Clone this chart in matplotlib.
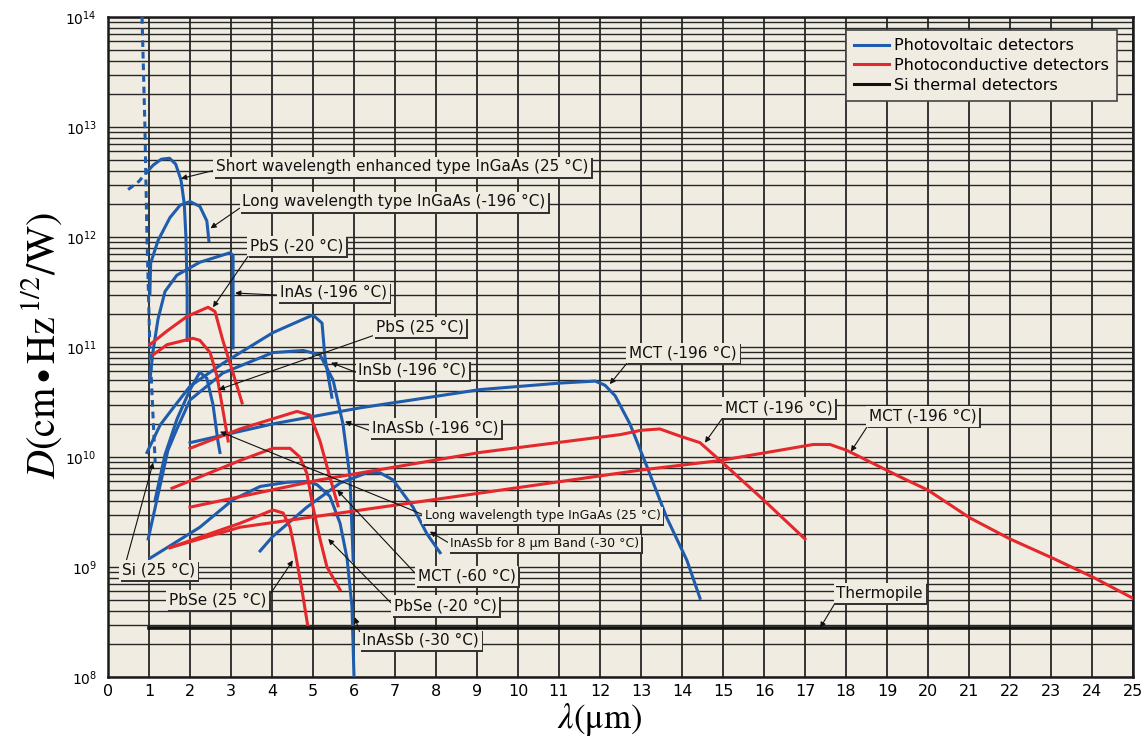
#detectivity of infrared detectors versus wavelength
import numpy as np
import matplotlib.pyplot as plt
import matplotlib.patheffects as pe
from matplotlib.lines import Line2D
from matplotlib.ticker import LogLocator

plt.rcParams['mathtext.fontset'] = 'stix'

bg = '#f0ece1'
blue = '#1f5cab'
red = '#e4282c'

#photovoltaic detectors (blue), wavelength in um, D in cm Hz^1/2 / W
si_lam = [0.83, 0.90, 0.95, 1.02, 1.15]
si_d = [1e14, 1e13, 1e12, 1e11, 8.9e9]

ingaas_sw_dash_lam = [0.49, 0.75, 0.95]
ingaas_sw_dash_d = [2.7e12, 3.2e12, 3.9e12]
ingaas_sw_lam = [0.95, 1.1, 1.3, 1.5, 1.65, 1.78, 1.86, 1.9, 1.93, 1.93]
ingaas_sw_d = [3.9e12, 4.5e12, 5.1e12, 5.2e12, 4.6e12, 3.3e12, 2.0e12, 1.0e12, 3.2e11, 1.15e11]

ingaas_lw_lam = [1.02, 1.04, 1.22, 1.51, 1.76, 2.0, 2.24, 2.41, 2.46]
ingaas_lw_d = [3.0e11, 5.8e11, 9.3e11, 1.5e12, 1.95e12, 2.1e12, 1.9e12, 1.4e12, 9.3e11]

inas_lam = [1.02, 1.10, 1.22, 1.39, 1.68, 2.24, 2.98, 3.05, 3.05]
inas_d = [5.0e10, 9.3e10, 1.8e11, 3.2e11, 4.5e11, 5.9e11, 7.2e11, 6.8e11, 9.8e10]

insb_lam = [0.95, 1.27, 1.59, 2.0, 2.8, 4.02, 4.85, 5.0, 5.22, 5.29, 5.46]
insb_d = [1.1e10, 1.95e10, 2.8e10, 4.4e10, 7.1e10, 1.35e11, 1.85e11, 1.95e11, 1.65e11, 8.1e10, 3.5e10]

inassb196_lam = [0.98, 1.46, 1.68, 2.0, 2.8, 4.02, 4.76, 5.17, 5.49, 5.73, 5.90, 5.98]
inassb196_d = [1.8e9, 1.15e10, 1.8e10, 3.3e10, 5.8e10, 8.9e10, 9.3e10, 8.5e10, 5.0e10, 2.0e10, 6.6e9, 1.15e9]

ingaas_lw25_lam = [1.15, 1.39, 1.68, 2.0, 2.24, 2.41, 2.56, 2.68, 2.73]
ingaas_lw25_d = [4.1e9, 1.05e10, 2.2e10, 4.1e10, 5.9e10, 5.2e10, 3.0e10, 1.4e10, 1.1e10]

mct_pv_lam = [2.0, 4.02, 6.15, 9.07, 11.02, 11.88, 12.12, 12.37, 12.73, 13.15, 13.63, 14.12, 14.44]
mct_pv_d = [1.35e10, 2.0e10, 2.8e10, 4.1e10, 4.7e10, 4.9e10, 4.5e10, 3.6e10, 2.0e10, 8.1e9, 2.8e9, 1.15e9, 5.2e8]

inassb8_lam = [3.71, 4.02, 4.85, 5.66, 6.32, 6.63, 6.95, 7.44, 7.78, 8.1]
inassb8_d = [1.4e9, 1.9e9, 3.5e9, 5.8e9, 7.2e9, 7.2e9, 6.2e9, 3.5e9, 2.0e9, 1.35e9]

inassb30_lam = [1.02, 1.44, 2.24, 3.05, 3.71, 4.37, 4.85, 5.1, 5.41, 5.66, 5.83, 5.95, 6.0]
inassb30_d = [1.2e9, 1.5e9, 2.3e9, 4.1e9, 5.4e9, 5.9e9, 6.0e9, 5.6e9, 4.4e9, 2.5e9, 1.2e9, 4.4e8, 1e8]

#photoconductive detectors (red)
pbs20_lam = [1.02, 1.44, 1.93, 2.44, 2.61, 2.80, 3.05, 3.27]
pbs20_d = [1.05e11, 1.4e11, 1.9e11, 2.3e11, 2.1e11, 1.15e11, 5.8e10, 3.1e10]

pbs25_lam = [1.10, 1.44, 2.07, 2.24, 2.49, 2.66, 2.80, 2.93]
pbs25_d = [8.5e10, 1.05e11, 1.2e11, 1.15e11, 8.9e10, 5.4e10, 2.7e10, 1.4e10]

mct60_lam = [2.0, 3.22, 4.61, 4.93, 5.17, 5.41, 5.61]
mct60_d = [1.2e10, 1.8e10, 2.6e10, 2.4e10, 1.4e10, 6.6e9, 3.6e9]

pbse20_lam = [1.56, 3.22, 4.02, 4.44, 4.68, 4.85, 5.0, 5.17, 5.34, 5.66]
pbse20_d = [5.2e9, 9.3e9, 1.2e10, 1.2e10, 1.0e10, 7.1e9, 3.5e9, 1.8e9, 1.0e9, 6.2e8]

pbse25_lam = [1.51, 3.22, 4.02, 4.27, 4.44, 4.56, 4.73, 4.88]
pbse25_d = [1.5e9, 2.5e9, 3.3e9, 3.1e9, 2.3e9, 1.4e9, 6.2e8, 2.8e8]

mct135_lam = [2.0, 5.17, 9.07, 12.5, 13.0, 13.46, 13.95, 14.44, 14.93, 15.98, 17.0]
mct135_d = [3.5e9, 6.2e9, 1.1e10, 1.6e10, 1.75e10, 1.8e10, 1.55e10, 1.35e10, 9.3e9, 4.1e9, 1.8e9]

mct175_lam = [1.51, 3.22, 9.07, 12.98, 14.93, 17.2, 17.61, 18.02, 19.32, 20.0, 21.02, 22.0, 23.05, 24.02, 25.0]
mct175_d = [1.5e9, 2.3e9, 4.7e9, 7.6e9, 9.3e9, 1.3e10, 1.3e10, 1.15e10, 6.6e9, 5.0e9, 2.8e9, 1.8e9, 1.2e9, 8.1e8, 5.2e8]

#Si thermal detector
thermo_lam = [1.0, 25.0]
thermo_d = [2.8e8, 2.8e8]

blue_curves = [(ingaas_sw_lam, ingaas_sw_d), (ingaas_lw_lam, ingaas_lw_d),
               (inas_lam, inas_d), (insb_lam, insb_d),
               (inassb196_lam, inassb196_d), (ingaas_lw25_lam, ingaas_lw25_d),
               (mct_pv_lam, mct_pv_d), (inassb8_lam, inassb8_d),
               (inassb30_lam, inassb30_d)]
red_curves = [(pbs20_lam, pbs20_d), (pbs25_lam, pbs25_d), (mct60_lam, mct60_d),
              (pbse20_lam, pbse20_d), (pbse25_lam, pbse25_d),
              (mct135_lam, mct135_d), (mct175_lam, mct175_d)]

#label text, arrow target (um, D), text centre (axes fraction), arrow start on box, font size
labels = [
    ('Short wavelength enhanced type InGaAs (25 °C)', (1.78, 3.4e12), (0.287, 0.773), (0, 0.3), 11),
    ('Long wavelength type InGaAs (-196 °C)', (2.5, 1.2e12), (0.279, 0.720), (0, 0.2), 11),
    ('PbS (-20 °C)', (2.56, 2.3e11), (0.184, 0.653), (0, 0), 11),
    ('InAs (-196 °C)', (3.1, 3.1e11), (0.220, 0.583), (0, 0.3), 11),
    ('PbS (25 °C)', (2.7, 4.1e10), (0.304, 0.530), (0, 0), 11),
    ('MCT (-196 °C)', (12.24, 4.6e10), (0.561, 0.491), (0, 0), 11),
    ('InSb (-196 °C)', (5.44, 7.2e10), (0.297, 0.465), (0, 0.3), 11),
    ('InAsSb (-196 °C)', (5.78, 2.1e10), (0.319, 0.377), (0, 0.3), 11),
    ('MCT (-196 °C)', (14.56, 1.35e10), (0.654, 0.408), (0, 0), 11),
    ('MCT (-196 °C)', (18.12, 1.12e10), (0.795, 0.395), (0, 0), 11),
    ('Long wavelength type InGaAs (25 °C)', (2.73, 1.7e10), (0.424, 0.245), (0, 0.5), 9),
    ('InAsSb for 8 μm Band (-30 °C)', (7.85, 2.1e9), (0.426, 0.202), (0, 0.5), 9),
    ('MCT (-60 °C)', (5.59, 5.0e9), (0.350, 0.153), (0, 0.5), 11),
    ('PbSe (-20 °C)', (5.37, 1.8e9), (0.329, 0.108), (0, 0.5), 11),
    ('InAsSb (-30 °C)', (6.02, 3.5e8), (0.305, 0.056), (0, 0.5), 11),
    ('Si (25 °C)', (1.1, 8.9e9), (0.049, 0.162), (0, 0), 11),
    ('PbSe (25 °C)', (4.51, 1.15e9), (0.107, 0.117), (1, 0.5), 11),
    ('Thermopile', (17.37, 2.8e8), (0.753, 0.127), (0, 0), 11),
]

fig = plt.figure(figsize=(11.48, 7.40), dpi=100)
ax = fig.add_axes([0.0941, 0.0851, 0.8928, 0.8919])
ax.set_facecolor(bg)
ax.set_yscale('log')
ax.set_xlim(0, 25)
ax.set_ylim(1e8, 1e14)
ax.set_xticks(range(0, 26))
ax.yaxis.set_minor_locator(LogLocator(base=10, subs=range(2, 10), numticks=20))
ax.yaxis.set_minor_formatter(plt.NullFormatter())
ax.set_axisbelow(True)
ax.grid(True, which='both', axis='y', color='#262626', lw=1.0)
ax.grid(True, which='major', axis='x', color='#262626', lw=1.3)
ax.tick_params(which='both', length=0)
ax.tick_params(axis='x', labelsize=11.5, pad=5)
ax.tick_params(axis='y', labelsize=10, pad=8)
for s in ax.spines.values():
    s.set_linewidth(1.8)
    s.set_color('#1a1a1a')

#curves
lw = 2.2
ax.plot(si_lam, si_d, color=blue, lw=lw, ls=(0, (2.2, 1.6)), zorder=3)
ax.plot(ingaas_sw_dash_lam, ingaas_sw_dash_d, color=blue, lw=lw, ls=(0, (2.2, 1.6)), zorder=3)
for lam, d in blue_curves:
    ax.plot(lam, d, color=blue, lw=lw, zorder=3)
for lam, d in red_curves:
    ax.plot(lam, d, color=red, lw=lw, zorder=3)
ax.plot(thermo_lam, thermo_d, color='#111111', lw=2.6, zorder=3)

#labels with boxes and leader arrows
for txt, tip, pos, rel, fs in labels:
    a = ax.annotate(txt, xy=tip, xycoords='data', xytext=pos, textcoords='axes fraction',
                    ha='center', va='center', fontsize=fs, color='#111111', zorder=6,
                    bbox=dict(boxstyle='square,pad=0.18', fc=bg, ec='none'),
                    arrowprops=dict(arrowstyle='-|>', color='#111111', lw=0.8,
                                    mutation_scale=8, shrinkA=0, shrinkB=0, relpos=rel))
    a.get_bbox_patch().set_path_effects([
        pe.SimplePatchShadow(offset=(1.2, -1.2), shadow_rgbFace='#333333', alpha=1.0),
        pe.Normal()])

#legend
handles = [Line2D([], [], color=blue, lw=2.2),
           Line2D([], [], color=red, lw=2.2),
           Line2D([], [], color='#111111', lw=2.2)]
leg = ax.legend(handles, ['Photovoltaic detectors', 'Photoconductive detectors', 'Si thermal detectors'],
                loc='upper right', bbox_to_anchor=(0.984, 0.980), borderaxespad=0,
                fontsize=11.5, frameon=True, fancybox=False, facecolor=bg,
                edgecolor='#444444', framealpha=1, handlelength=2.2, handletextpad=0.3,
                borderpad=0.5, labelspacing=0.3)
leg.get_frame().set_linewidth(1.2)
leg.set_zorder(7)

ax.set_ylabel(r'$D\left(\mathrm{cm\,{\bullet}\,Hz}^{\,1/2}\mathrm{/W}\right)$', fontsize=29)
ax.yaxis.label.set_va('center')
ax.yaxis.set_label_coords(-0.065, 0.503)
ax.set_xlabel(r'$\lambda\left(\mathrm{μm}\right)$', fontsize=25)
ax.xaxis.label.set_va('center')
ax.xaxis.set_label_coords(0.48, -0.064)

fig.savefig('out.png', dpi=100, facecolor='white')
